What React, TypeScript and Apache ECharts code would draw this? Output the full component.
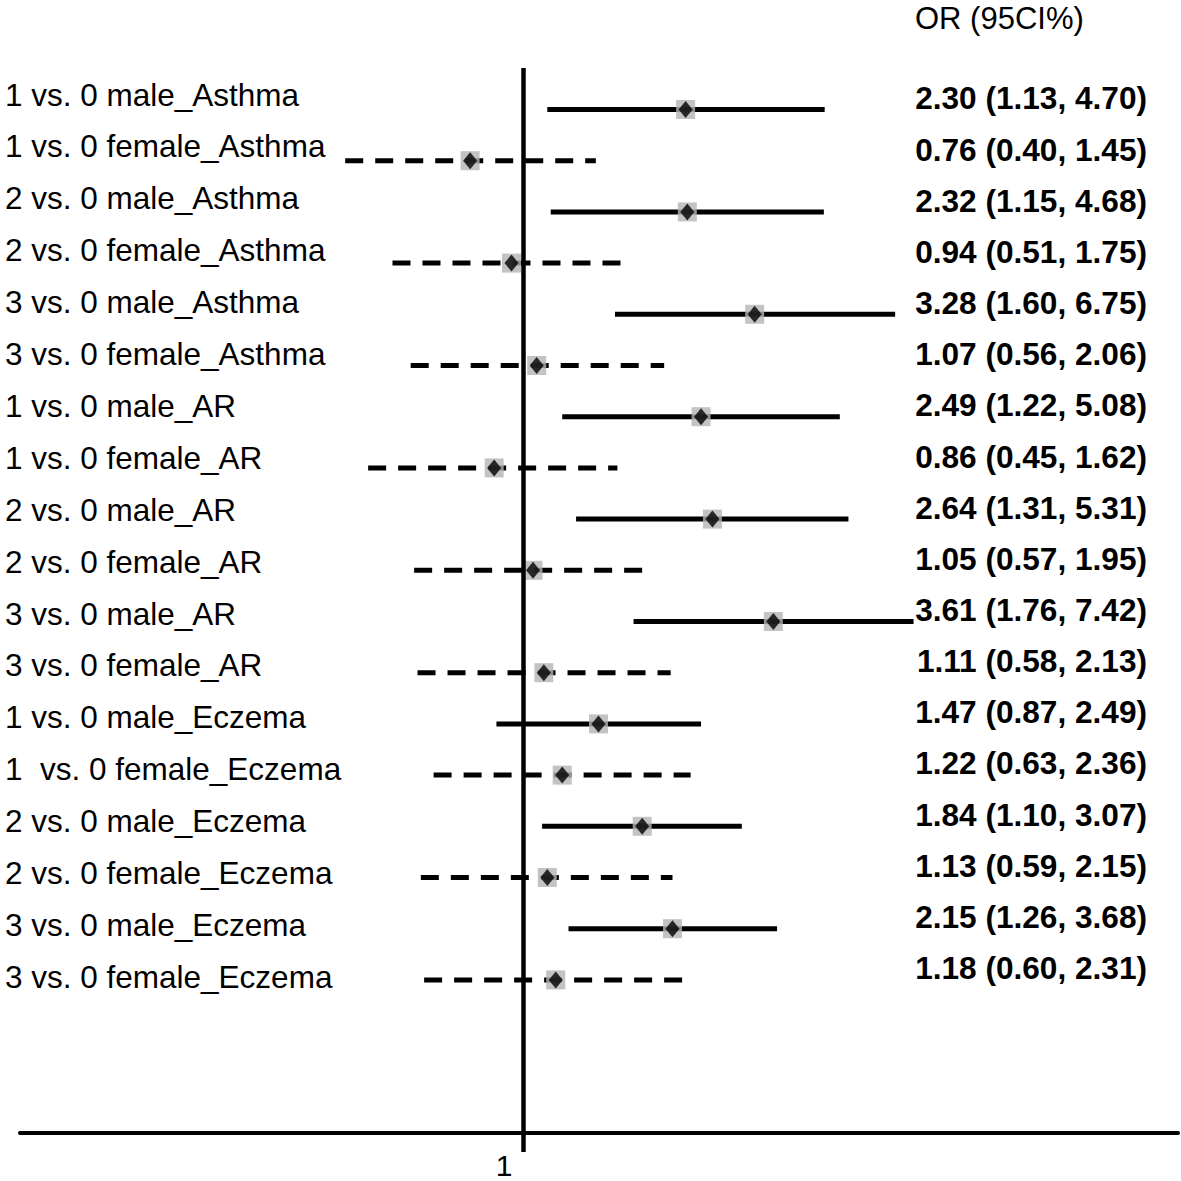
import React, { useEffect, useRef } from 'react';
import * as echarts from 'echarts';

const labels = [
  '1 vs. 0 male_Asthma',
  '1 vs. 0 female_Asthma',
  '2 vs. 0 male_Asthma',
  '2 vs. 0 female_Asthma',
  '3 vs. 0 male_Asthma',
  '3 vs. 0 female_Asthma',
  '1 vs. 0 male_AR',
  '1 vs. 0 female_AR',
  '2 vs. 0 male_AR',
  '2 vs. 0 female_AR',
  '3 vs. 0 male_AR',
  '3 vs. 0 female_AR',
  '1 vs. 0 male_Eczema',
  '1  vs. 0 female_Eczema',
  '2 vs. 0 male_Eczema',
  '2 vs. 0 female_Eczema',
  '3 vs. 0 male_Eczema',
  '3 vs. 0 female_Eczema',
];
const oddsRatio = [2.30, 0.76, 2.32, 0.94, 3.28, 1.07, 2.49, 0.86, 2.64, 1.05, 3.61, 1.11, 1.47, 1.22, 1.84, 1.13, 2.15, 1.18];
const ciLower = [1.13, 0.40, 1.15, 0.51, 1.60, 0.56, 1.22, 0.45, 1.31, 0.57, 1.76, 0.58, 0.87, 0.63, 1.10, 0.59, 1.26, 0.60];
const ciUpper = [4.70, 1.45, 4.68, 1.75, 6.75, 2.06, 5.08, 1.62, 5.31, 1.95, 7.42, 2.13, 2.49, 2.36, 3.07, 2.15, 3.68, 2.31];
const xTickLabels = ['1'];
const headerText = 'OR (95CI%)';

const FONT = '"Liberation Sans", Arial, Helvetica, sans-serif';

export default function App() {
  const ref = useRef<HTMLDivElement>(null);

  useEffect(() => {
    if (!ref.current) return;
    const chart = echarts.init(ref.current, null, { renderer: 'svg' });

    const rows = labels.map((_, i) => i);
    const isFemale = labels.map((l) => (l.indexOf('female') >= 0 ? 1 : 0));
    const orTexts = rows.map(
      (i) => `${oddsRatio[i].toFixed(2)} (${ciLower[i].toFixed(2)}, ${ciUpper[i].toFixed(2)})`
    );

    const option: any = {
      animation: false,
      backgroundColor: '#ffffff',
      title: {
        text: headerText,
        left: 915,
        top: 2,
        padding: 0,
        textStyle: { fontFamily: FONT, fontSize: 31, lineHeight: 32, fontWeight: 'normal', color: '#000' },
      },
      grid: [
        { left: 20, right: 3, top: 68, bottom: 29 },
        { left: 340, width: 10, top: 68.55, bottom: 178.25 },
        { left: 1150, width: 10, top: 72.9, bottom: 187.4 },
      ],
      xAxis: [
        {
          type: 'log',
          gridIndex: 0,
          min: 0.07521,
          max: 28.88,
          offset: -19,
          axisLine: { onZero: false, lineStyle: { color: '#000', width: 4 } },
          axisTick: { show: false },
          splitLine: { show: false },
          axisLabel: {
            formatter: (v: number) => (Math.abs(v - 1) < 1e-6 ? xTickLabels[0] : ''),
            margin: 17,
            fontSize: 30,
            fontFamily: FONT,
            color: '#000',
            padding: [0, 39, 0, 0],
          },
        },
        { type: 'value', gridIndex: 1, show: false },
        { type: 'value', gridIndex: 2, show: false },
      ],
      yAxis: [
        { type: 'value', gridIndex: 0, inverse: true, min: -0.8105, max: 20.361, show: false },
        {
          type: 'category',
          gridIndex: 1,
          inverse: true,
          data: labels,
          axisLine: { show: false },
          axisTick: { show: false },
          splitLine: { show: false },
          axisLabel: {
            interval: 0,
            align: 'left',
            margin: 335,
            fontSize: 31.5,
            fontFamily: FONT,
            color: '#000',
          },
        },
        {
          type: 'category',
          gridIndex: 2,
          inverse: true,
          data: orTexts,
          axisLine: { show: false },
          axisTick: { show: false },
          splitLine: { show: false },
          axisLabel: {
            interval: 0,
            margin: 3,
            fontSize: 31.6,
            fontWeight: 'bold',
            fontFamily: FONT,
            color: '#000',
          },
        },
      ],
      series: [
        {
          type: 'custom',
          xAxisIndex: 0,
          yAxisIndex: 0,
          data: rows.map((i) => [ciLower[i], ciUpper[i], i, isFemale[i]]),
          encode: { x: [0, 1], y: 2 },
          renderItem: (params: any, api: any) => {
            const a = api.coord([api.value(0), api.value(2)]);
            const b = api.coord([api.value(1), api.value(2)]);
            return {
              type: 'line',
              shape: { x1: a[0], y1: a[1], x2: b[0], y2: b[1] },
              style: {
                stroke: '#000',
                lineWidth: 5,
                lineDash: api.value(3) ? [18, 12] : null,
              },
            };
          },
          markLine: {
            silent: true,
            symbol: 'none',
            label: { show: false },
            lineStyle: { color: '#000', width: 4.5, type: 'solid' },
            data: [{ xAxis: 1 }],
          },
          z: 2,
        },
        {
          type: 'scatter',
          xAxisIndex: 0,
          yAxisIndex: 0,
          data: rows.map((i) => [oddsRatio[i], i]),
          symbol: 'rect',
          symbolSize: 19,
          itemStyle: { color: '#b4b4b4' },
          z: 3,
        },
        {
          type: 'scatter',
          xAxisIndex: 0,
          yAxisIndex: 0,
          data: rows.map((i) => [oddsRatio[i], i]),
          symbol: 'diamond',
          symbolSize: [14, 17],
          itemStyle: { color: '#000' },
          z: 4,
        },
      ],
    };

    chart.setOption(option);
    return () => chart.dispose();
  }, []);

  return (
    <div
      ref={ref}
      style={{ position: 'fixed', left: 0, top: 0, width: 1181, height: 1181, background: '#fff' }}
    />
  );
}
